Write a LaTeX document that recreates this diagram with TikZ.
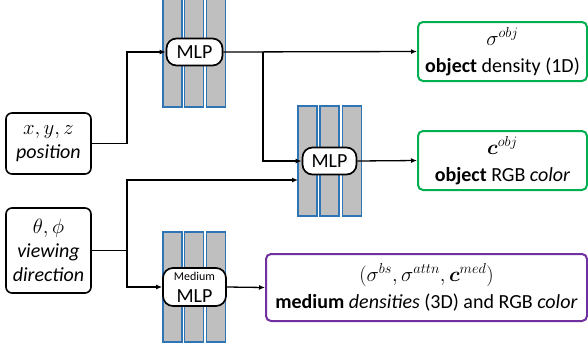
\documentclass[tikz,border=0pt]{standalone}
\usepackage{amsmath,bm}
\usepackage{fontspec}
\setmainfont{Carlito}
\usetikzlibrary{arrows.meta}
\definecolor{barfill}{HTML}{BFBFBF}
\definecolor{barblue}{HTML}{2E75B6}
\definecolor{okgreen}{HTML}{00B050}
\definecolor{medpurple}{HTML}{7030A0}
\begin{document}
\begin{tikzpicture}[x=1pt,y=-1pt,
  bar/.style={draw=barblue,fill=barfill,line width=1.2pt,minimum width=19pt,minimum height=110pt,inner sep=0pt},
  mlpbox/.style={draw=black,fill=white,line width=1.7pt,rounded corners=10pt,minimum width=56pt,minimum height=27pt,inner sep=0pt,font=\fontsize{20}{24}\selectfont},
  inbox/.style={draw=black,line width=1.6pt,rounded corners=6pt,minimum width=85pt,inner sep=0pt,align=center,font=\fontsize{20}{24}\selectfont},
  outbox/.style={line width=2pt,rounded corners=5pt,fill=white,inner sep=0pt,align=center,font=\fontsize{20}{27}\selectfont},
  arr/.style={line width=1.3pt,-{Latex[length=6pt,width=5pt]}},
  ln/.style={line width=1.3pt}]
\clip (0,0) rectangle (588,354);
% bars
\node[bar] (b11) at (172.5,52) {};
\node[bar] (b12) at (194,52) {};
\node[bar] (b13) at (216,52) {};
\node[bar] (b21) at (307.5,161) {};
\node[bar] (b22) at (329.5,161) {};
\node[bar] (b23) at (352,161) {};
\node[bar] (b31) at (172.5,287) {};
\node[bar] (b32) at (194,287) {};
\node[bar] (b33) at (216,287) {};
% MLP boxes
\node[mlpbox] (mlp1) at (194.5,52) {MLP};
\node[mlpbox,minimum width=54pt] (mlp2) at (329.5,161) {MLP};
\node[mlpbox,minimum width=63pt,minimum height=38pt,align=center] (mlp3) at (194.5,287)
  {{\fontsize{12}{12}\selectfont Medium}\\[-2pt]MLP};
% inputs
\node[inbox,minimum height=61pt] (pos) at (48.5,143.5) {$x,y,z$\\\textit{position}};
\node[inbox,minimum height=85pt] (view) at (48.5,250.5) {$\theta,\phi$\\\textit{viewing}\\\textit{direction}};
% outputs
\node[outbox,draw=okgreen,minimum width=169pt,minimum height=59pt] (out1) at (502.5,51.5)
  {$\sigma^{obj}$\\\textbf{object} density (1D)};
\node[outbox,draw=okgreen,minimum width=169pt,minimum height=59pt] (out2) at (502.5,160.5)
  {$\bm{c}^{obj}$\\\textbf{object} RGB \textit{color}};
\node[outbox,draw=medpurple,minimum width=321pt,minimum height=67pt] (out3) at (426.5,287.5)
  {$(\sigma^{bs},\sigma^{attn},\bm{c}^{med})$\\\textbf{medium} \textit{densities} (3D) and RGB \textit{color}};
% junctions
\coordinate (j1) at (127,143.5);
\coordinate (j2) at (263,52);
\coordinate (j3) at (127,250.5);
\coordinate (t2) at (298,180);
% connectors
\draw[ln] (pos.east) -- (j1);
\draw[arr] (j1) |- (mlp1.west);
\draw[arr] (mlp1.east) -- (out1.west);
\draw[arr] (j2) |- (mlp2.west);
\draw[arr] (mlp2.east) -- (out2.west);
\draw[ln] (view.east) -- (j3);
\draw[arr] (j3) |- (t2);
\draw[arr] (j3) |- (mlp3.west);
\draw[arr] (mlp3.east) -- (out3.west);
\end{tikzpicture}
\end{document}
